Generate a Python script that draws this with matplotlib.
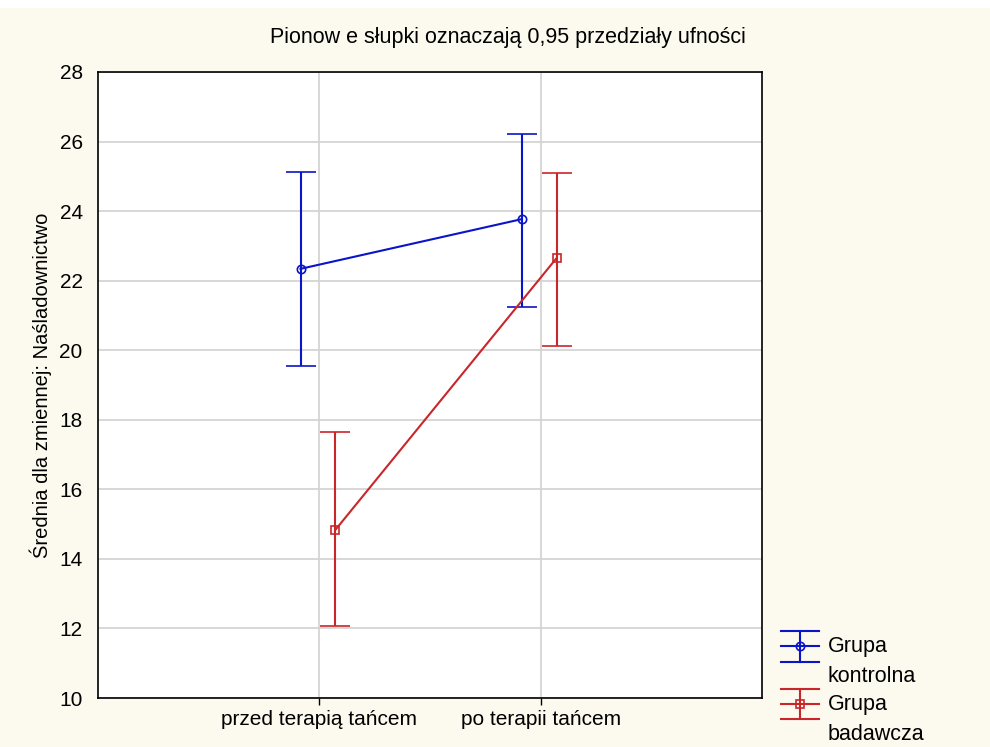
import matplotlib
matplotlib.use("Agg")
import matplotlib.pyplot as plt
from matplotlib.patches import Rectangle
from matplotlib.lines import Line2D
from matplotlib.legend_handler import HandlerBase
import numpy as np

plt.rcParams['font.family'] = ['Liberation Sans', 'DejaVu Sans']

categories = ["przed terapią tańcem", "po terapii tańcem"]
groups = ["Grupa\nkontrolna", "Grupa\nbadawcza"]
means_kontrolna = [22.34, 23.77]
lower_kontrolna = [19.55, 21.24]
upper_kontrolna = [25.12, 26.22]
means_badawcza = [14.83, 22.65]
lower_badawcza = [12.07, 20.12]
upper_badawcza = [17.65, 25.10]
yticks = [10, 12, 14, 16, 18, 20, 22, 24, 26, 28]


class ErrHandler(HandlerBase):
    def __init__(self, color, marker):
        super().__init__()
        self.color = color
        self.marker = marker

    def create_artists(self, legend, orig_handle, xdescent, ydescent, width,
                       height, fontsize, trans):
        xd, w = -xdescent, width
        mid = height - ydescent + 6
        top = mid + 11
        bot = mid - 11
        arts = []
        for yy in (top, mid, bot):
            arts.append(Line2D([xd, xd + w], [yy, yy], color=self.color, lw=1.5,
                               transform=trans))
        arts.append(Line2D([xd + w / 2, xd + w / 2], [bot, top], color=self.color,
                           lw=1.5, transform=trans))
        arts.append(Line2D([xd + w / 2], [mid], color=self.color, marker=self.marker,
                           markersize=6, markerfacecolor="none", markeredgewidth=1.2,
                           lw=0, transform=trans))
        return arts


bg = "#fcf9ee"
fig = plt.figure(figsize=(9.9, 7.47), dpi=100, facecolor=bg)
fig.patches.append(Rectangle((0, 1 - 8/747), 1, 8/747, transform=fig.transFigure,
                             facecolor="white", edgecolor="none", zorder=0))
ax = fig.add_axes([98/990, 1 - 698/747, (762-98)/990, (698-72)/747])
ax.set_facecolor("white")

x = np.arange(len(categories))
series = [
    (means_kontrolna, lower_kontrolna, upper_kontrolna, "#0a14c8", "o", -0.085),
    (means_badawcza, lower_badawcza, upper_badawcza, "#c8262a", "s", 0.072),
]
handles = []
handler_map = {}
for (m, lo, up, col, mk, off), lab in zip(series, groups):
    m = np.array(m); lo = np.array(lo); up = np.array(up)
    h = ax.errorbar(x + off, m, yerr=[m - lo, up - m], color=col, ecolor=col,
                    marker=mk, markersize=6, markerfacecolor="none",
                    markeredgecolor=col, markeredgewidth=1.2, lw=1.5,
                    elinewidth=1.5, capsize=11, capthick=1.5, label=lab, zorder=3)
    handles.append(h)
    handler_map[h] = ErrHandler(col, mk)

ax.set_xlim(-1, 2)
ax.set_ylim(10, 28)
ax.set_yticks(yticks)
ax.set_xticks(x)
ax.set_xticklabels(categories)
ax.grid(True, color="#d4d4d4", lw=1.3, zorder=0)
ax.set_axisbelow(True)
for s in ax.spines.values():
    s.set_color("black")
    s.set_linewidth(1.2)
ax.tick_params(axis="y", labelsize=15, length=0, pad=11, color="black")
ax.tick_params(axis="x", labelsize=15, length=5, width=1, color="black")
ax.set_ylabel("Średnia dla zmiennej: Naśladownictwo", fontsize=14.5, labelpad=5)

fig.text(508/990, 1 - 38/747, "Pionow e słupki oznaczają 0,95 przedziały ufności",
         ha="center", va="center", fontsize=15.5)

leg = fig.legend(handles=handles, labels=groups, loc="lower left",
                 bbox_to_anchor=(781/990, 1 - 745/747), frameon=False,
                 fontsize=15.5, handlelength=1.75, labelspacing=0.33,
                 handletextpad=0.42, borderpad=0, borderaxespad=0,
                 handler_map=handler_map)
for t in leg.get_texts():
    t.set_linespacing(1.55)

fig.savefig("out.png", dpi=100, facecolor=bg)
